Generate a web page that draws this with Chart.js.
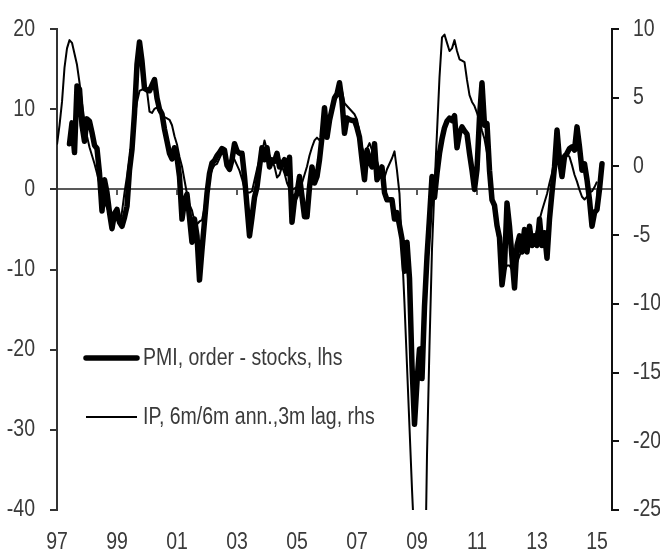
<!DOCTYPE html>
<html>
<head>
<meta charset="utf-8">
<script src="https://cdn.jsdelivr.net/npm/chart.js@4.4.1/dist/chart.umd.min.js"></script>
<style>
html,body{margin:0;padding:0;background:#ffffff;}
#wrap{width:660px;height:554px;position:relative;}
</style>
</head>
<body>
<div id="wrap"><canvas id="c" width="660" height="554"></canvas></div>
<script>
// ---------------- data ----------------
const startYear = 1997;                       // month index 0 = Jan 1997
const xTickYears  = [1997, 1999, 2001, 2003, 2005, 2007, 2009, 2011, 2013, 2015];
const xTickLabels = ['97', '99', '01', '03', '05', '07', '09', '11', '13', '15'];
const lhsTicks = [-40, -30, -20, -10, 0, 10, 20];
const rhsTicks = [-25, -20, -15, -10, -5, 0, 5, 10];

const pmiLabel = 'PMI, order - stocks, lhs';
const ipLabel  = 'IP, 6m/6m ann.,3m lag, rhs';

const pmiFirstMonth = 5;   // Jun 1997
const pmi = [
  5.7, 8.3, 4.6, 12.9, 12.5, 8.0, 6.0,
  8.8, 8.5, 7.1, 5.5, 5.1, 2.0, -2.7, 1.2, -0.4, -2.9, -4.9, -3.0,
  -2.5, -4.1, -4.6, -3.5, -2.1, 2.4, 5.0, 9.5, 15.6, 18.4, 16.0, 12.6,
  12.4, 12.3, 13.0, 13.7, 11.4, 10.0, 9.4, 7.5, 6.0, 4.5, 3.8, 5.2,
  4.0, 1.6, -3.7, -1.5, -0.6, -3.5, -6.6, -3.7, -5.8, -11.3, -7.5, -4.0,
  -0.5, 2.0, 3.3, 3.6, 4.2, 4.6, 5.1, 4.9, 3.0, 2.5, 3.7, 5.7,
  4.8, 4.5, 4.5, 1.6, -2.1, -5.8, -3.5, -1.0, 0.3, 2.8, 5.2, 3.7,
  5.2, 2.8, 3.7, 3.5, 4.5, 2.8, 3.2, 3.7, 2.0, 4.0, -4.1, -1.3,
  -0.5, 1.6, -0.9, -3.4, -3.4, 0.3, 2.8, 0.8, 1.6, 3.7, 6.5, 10.2,
  6.5, 8.6, 10.0, 11.4, 11.9, 13.3, 11.0, 7.0, 8.9, 8.7, 8.6, 8.6,
  7.7, 6.5, 3.7, 1.2, 4.9, 3.5, 2.8, 5.7, 1.2, 2.0, 2.8, -0.4,
  -1.3, -1.3, -1.3, -3.7, -2.9, -4.5, -6.2, -10.2, -6.6, -11.1, -22.0, -29.3,
  -24.0, -19.9, -23.6, -14.6, -8.4, -3.5, 1.6, -1.0, 2.0, 4.5, 6.3, 7.7,
  8.5, 8.9, 8.6, 9.2, 5.2, 7.0, 7.8, 7.3, 6.9, 4.5, 2.4, 0.0,
  2.5, 9.0, 13.3, 8.0, 8.2, 2.4, -1.3, -2.0, -4.5, -6.0, -11.9, -9.5,
  -1.7, -4.6, -8.5, -12.3, -7.0, -5.8, -7.8, -5.0, -7.8, -4.6, -7.0, -5.8,
  -7.0, -3.7, -7.0, -5.4, -8.6, -3.7, -0.4, 2.8, 7.4, 3.7, 1.6, 4.1,
  4.5, 5.1, 5.3, 4.9, 7.8, 5.3, 2.4, 3.2, 1.2, -1.3, -4.6, -2.9,
  -2.5, 0.0, 3.2
];

const ipFirstMonth = 0;    // Jan 1997
const ip = [
  1.6, 3.0, 4.7, 7.2, 8.6, 9.2, 9.0, 8.2, 7.4, 6.1, 4.6, 3.3,
  2.2, 1.4, 0.8, 0.2, -0.5, -1.3, -2.0, -2.6, -3.0, -3.5, -3.8, -3.8,
  -3.9, -4.2, -3.3, -1.9, -0.7, 0.5, 2.0, 3.5, 4.7, 5.5, 5.6, 5.6,
  5.5, 4.0, 3.9, 4.2, 4.3, 4.0, 3.8, 3.6, 3.5, 3.4, 3.0, 2.2,
  1.6, 0.7, 0.0, -1.0, -2.0, -2.8, -3.2, -4.0, -4.2, -4.0, -3.9, -3.0,
  -1.5, -0.8, -0.2, 0.1, 0.2, 0.6, 1.0, 0.8, 0.4, 0.2, 0.8, 0.5,
  0.1, -0.3, -0.9, -1.6, -1.9, -1.9, -1.8, -1.0, -0.2, 0.5, 1.0, 1.9,
  1.2, 0.8, 0.4, 0.0, -0.8, -0.6, 0.0, -0.5, -1.2, -1.6, -1.7, -1.6,
  -1.5, -1.5, -1.2, -0.6, 0.0, 0.8, 1.4, 1.9, 2.1, 1.9, 2.2, 2.5,
  2.8, 3.3, 4.5, 4.9, 5.2, 5.9, 5.5, 4.6, 4.4, 4.2, 4.0, 3.8,
  3.4, 2.5, 1.4, 0.9, 1.3, 1.7, 1.2, 0.9, 0.4, -0.2, -0.8, -0.8,
  -0.2, 0.2, 0.6, 1.1, -0.3, -2.0, -6.0, -10.0, -14.5, -19.0, -23.5, -27.5,
  -32.0, -36.0, -38.0, -33.0, -21.0, -13.0, -6.0, -1.5, 2.5, 6.5, 9.4, 9.6,
  9.0, 8.4, 8.6, 9.2, 8.4, 7.8, 7.7, 7.6, 6.3, 5.2, 4.7, 4.4,
  3.9, 3.3, 2.6, 2.0, 1.0, -0.5, -2.0, -3.5, -4.6, -6.0, -7.0, -7.6,
  -7.2, -7.2, -7.5, -7.7, -7.0, -6.5, -6.0, -5.5, -4.8, -4.6, -4.9, -5.3,
  -4.6, -3.9, -3.2, -2.6, -2.0, -1.2, -0.5, 0.5, 1.4, 0.1, 0.5, 0.8,
  0.9, 0.7, 0.1, -0.6, -1.1, -1.7, -2.2, -2.4, -2.2, -1.9, -1.8, -1.5,
  -1.1
];

// ---------------- chart ----------------
const FONT = "'Liberation Sans Narrow','Arial Narrow','Liberation Sans',Arial,sans-serif";
const FSIZE = 23.5;
const NARROW = 0.83;      // horizontal condensing to mimic a narrow face
const TXT = '#3a3a3a';
const AX_L = '#333333';
const AX_R = '#111111';
const ZERO = '#595959';

const canvas = document.getElementById('c');
const ctx2d = canvas.getContext('2d');
// draw all text condensed (real text, just horizontally scaled)
const nativeFillText = ctx2d.fillText;
ctx2d.fillText = function (text, x, y, maxWidth) {
  this.save();
  this.translate(x, y);
  this.scale(NARROW, 1);
  if (maxWidth === undefined) nativeFillText.call(this, text, 0, 0);
  else nativeFillText.call(this, text, 0, 0, maxWidth / NARROW);
  this.restore();
};

const toPoints = (arr, first) => arr.map((v, i) => ({ x: startYear + (first + i) / 12, y: v }));

function setXTicks(scale) {
  scale.ticks = xTickYears.map(v => ({ value: v }));
}
const xLabel = (v) => {
  const i = xTickYears.indexOf(v);
  return i >= 0 ? xTickLabels[i] : '';
};

const insideLegend = {
  id: 'insideLegend',
  afterDraw(chart) {
    const ctx = chart.ctx;
    const items = [
      { label: pmiLabel, width: 5.5, y: 358 },
      { label: ipLabel,  width: 2,   y: 417 }
    ];
    ctx.save();
    ctx.font = FSIZE + 'px ' + FONT;
    ctx.textBaseline = 'middle';
    ctx.textAlign = 'left';
    items.forEach(it => {
      ctx.strokeStyle = '#000';
      ctx.lineWidth = it.width;
      ctx.lineCap = it.width > 3 ? 'round' : 'butt';
      ctx.beginPath();
      ctx.moveTo(86, it.y);
      ctx.lineTo(137, it.y);
      ctx.stroke();
      ctx.fillStyle = TXT;
      ctx.fillText(it.label, 143, it.y + 1);
    });
    ctx.restore();
  }
};

new Chart(canvas, {
  type: 'line',
  data: {
    datasets: [
      {
        label: ipLabel,
        data: toPoints(ip, ipFirstMonth),
        yAxisID: 'y1',
        xAxisID: 'x',
        borderColor: '#000',
        borderWidth: 2,
        pointRadius: 0,
        tension: 0,
        borderJoinStyle: 'round',
        order: 1
      },
      {
        label: pmiLabel,
        data: toPoints(pmi, pmiFirstMonth),
        yAxisID: 'y',
        xAxisID: 'x',
        borderColor: '#000',
        borderWidth: 5.5,
        pointRadius: 0,
        tension: 0,
        borderJoinStyle: 'round',
        borderCapStyle: 'round',
        order: 2
      }
    ]
  },
  options: {
    responsive: false,
    animation: false,
    devicePixelRatio: 1,
    layout: { padding: { top: 22, left: 0, right: 0, bottom: 0 } },
    plugins: { legend: { display: false }, tooltip: { enabled: false } },
    scales: {
      x: {
        type: 'linear',
        position: 'bottom',
        min: 1997,
        max: 2015.5,
        afterBuildTicks: setXTicks,
        afterFit: (s) => { s.height = 44; },
        grid: { display: false, drawTicks: false },
        border: { display: false },
        ticks: {
          callback: xLabel,
          autoSkip: false,
          maxRotation: 0,
          padding: 18,
          color: TXT,
          font: { family: FONT, size: FSIZE }
        }
      },
      xz: {
        type: 'linear',
        position: { y: 0 },
        min: 1997,
        max: 2015.5,
        afterBuildTicks: setXTicks,
        grid: { drawOnChartArea: false, drawTicks: true, tickLength: 5, color: ZERO, lineWidth: 2 },
        border: { display: true, color: ZERO, width: 2 },
        ticks: { display: false }
      },
      y: {
        type: 'linear',
        position: 'left',
        min: -40,
        max: 20,
        afterBuildTicks: (s) => { s.ticks = lhsTicks.map(v => ({ value: v })); },
        afterFit: (s) => { s.width = 57; },
        grid: { drawOnChartArea: false, drawTicks: true, tickLength: 7, color: AX_L, lineWidth: 2 },
        border: { display: true, color: AX_L, width: 2 },
        ticks: { padding: 15, color: TXT, font: { family: FONT, size: FSIZE } }
      },
      y1: {
        type: 'linear',
        position: 'right',
        min: -25,
        max: 10,
        afterBuildTicks: (s) => { s.ticks = rhsTicks.map(v => ({ value: v })); },
        afterFit: (s) => { s.width = 48; },
        grid: { drawOnChartArea: false, drawTicks: true, tickLength: 7, color: AX_R, lineWidth: 2 },
        border: { display: true, color: AX_R, width: 2 },
        ticks: { padding: 14, color: TXT, font: { family: FONT, size: FSIZE } }
      }
    }
  },
  plugins: [insideLegend]
});
</script>
</body>
</html>
